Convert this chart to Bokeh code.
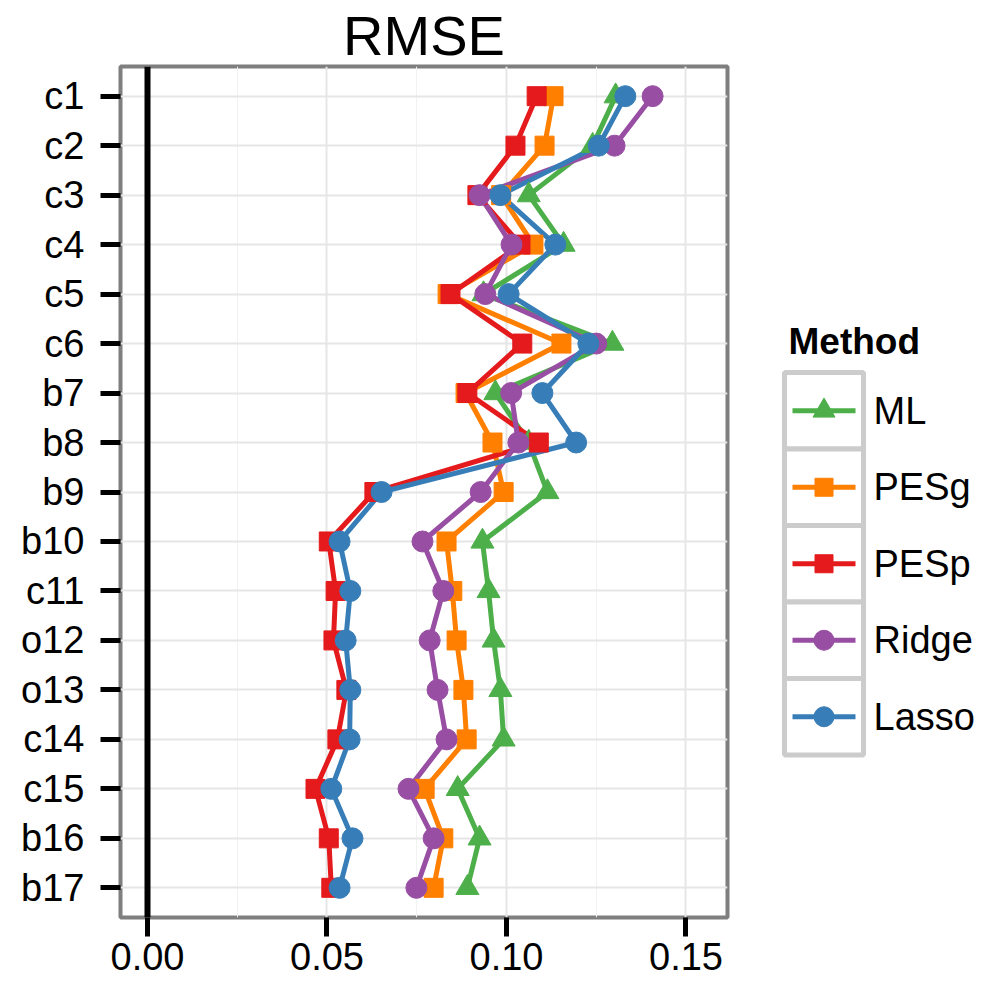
from bokeh.plotting import figure
from bokeh.models import (FactorRange, Range1d, FixedTicker, NumeralTickFormatter, Span)
from bokeh.layouts import row
from bokeh.embed import file_html
from bokeh.resources import INLINE
from bokeh.core.properties import value

# ---------------- data ----------------
categories = ["c1", "c2", "c3", "c4", "c5", "c6", "b7", "b8", "b9", "b10",
              "c11", "o12", "o13", "c14", "c15", "b16", "b17"]
methods = ["ML", "PESg", "PESp", "Ridge", "Lasso"]
x_ticks = [0.0, 0.05, 0.10, 0.15]
x_minor = [0.025, 0.075, 0.125]

ml = [0.1304, 0.1240, 0.1062, 0.1159, 0.0936, 0.1295, 0.0969, 0.1062, 0.1114,
      0.0933, 0.0950, 0.0964, 0.0983, 0.0992, 0.0864, 0.0925, 0.0891]
pesg = [0.1131, 0.1106, 0.0985, 0.1075, 0.0836, 0.1153, 0.0886, 0.0961, 0.0992,
        0.0833, 0.0849, 0.0861, 0.0880, 0.0889, 0.0772, 0.0824, 0.0797]
pesp = [0.1084, 0.1025, 0.0919, 0.1039, 0.0844, 0.1044, 0.0891, 0.1090, 0.0632,
        0.0505, 0.0524, 0.0518, 0.0554, 0.0529, 0.0468, 0.0505, 0.0512]
ridge = [0.1407, 0.1301, 0.0925, 0.1014, 0.0941, 0.1250, 0.1013, 0.1033, 0.0928,
         0.0766, 0.0824, 0.0786, 0.0808, 0.0833, 0.0727, 0.0797, 0.0749]
lasso = [0.1331, 0.1257, 0.0983, 0.1136, 0.1006, 0.1228, 0.1100, 0.1194, 0.0652,
         0.0535, 0.0565, 0.0552, 0.0565, 0.0563, 0.0512, 0.0571, 0.0535]
series = [ml, pesg, pesp, ridge, lasso]

colors = ["#4daf4a", "#ff7f00", "#e41a1c", "#984ea3", "#377eb8"]
markers = ["triangle", "square", "square", "circle", "circle"]
msizes = [23, 19, 19, 21, 21]

FONT = "Liberation Sans"
TOP, BOTTOM = 66, 64   # page border above / below the panel

# ---------------- main panel ----------------
p = figure(width=760, height=981,
           x_range=Range1d(-0.00752, 0.16156),
           y_range=FactorRange(factors=list(reversed(categories)),
                               range_padding=0.1, range_padding_units="absolute"),
           toolbar_location=None, output_backend="svg",
           min_border_left=120, min_border_right=33,
           min_border_top=TOP, min_border_bottom=BOTTOM,
           title="RMSE")

p.title.text_font = FONT
p.title.text_font_size = "56px"
p.title.text_font_style = "normal"
p.title.text_color = "black"
p.title.align = "center"
p.title.standoff = 0
p.title.offset = 0

p.background_fill_color = "white"
p.border_fill_color = "white"
p.outline_line_color = "#7f7f7f"
p.outline_line_width = 4

ticker = FixedTicker(ticks=x_ticks, minor_ticks=x_minor)
p.xaxis.ticker = ticker
p.xgrid.ticker = ticker
p.xaxis.formatter = NumeralTickFormatter(format="0.00")

p.xgrid.grid_line_color = "#e6e6e6"
p.xgrid.grid_line_width = 2
p.xgrid.minor_grid_line_color = "#f2f2f2"
p.xgrid.minor_grid_line_width = 1
p.ygrid.grid_line_color = "#e6e6e6"
p.ygrid.grid_line_width = 2

for ax in (p.xaxis[0], p.yaxis[0]):
    ax.axis_line_color = None
    ax.major_tick_line_color = "black"
    ax.major_tick_line_width = 5
    ax.major_tick_in = 0
    ax.minor_tick_line_color = None
    ax.major_label_text_font = FONT
    ax.major_label_text_font_size = "38px"
    ax.major_label_text_color = "black"

p.xaxis.major_tick_out = 19
p.xaxis.major_label_standoff = 6
p.yaxis.major_tick_out = 20
p.yaxis.major_label_standoff = 16

p.add_layout(Span(location=0, dimension="height", line_color="black", line_width=6))

for vals, c in zip(series, colors):
    p.line(vals, categories, line_color=c, line_width=5)
for vals, c, m, s in zip(series, colors, markers, msizes):
    p.scatter(vals, categories, marker=m, size=s, fill_color=c, line_color=c)

# ---------------- legend (pixel coordinates inside its own frame) ----------------
lg = figure(width=230, height=981, x_range=Range1d(0, 230),
            y_range=Range1d(981 - BOTTOM, TOP),
            toolbar_location=None, output_backend="svg",
            x_axis_location=None, y_axis_location=None,
            min_border_left=0, min_border_right=0,
            min_border_top=TOP, min_border_bottom=BOTTOM)
lg.grid.visible = False
lg.outline_line_color = None
lg.background_fill_color = "white"
lg.border_fill_color = "white"

key_top = 372.0
key_h = 76.5
key_cx = 63.5
centers = [key_top + key_h * (i + 0.5) for i in range(len(methods))]

lg.rect(x=[key_cx] * len(methods), y=centers, width=79, height=key_h,
        fill_color="white", line_color="#cccccc", line_width=5)
for i, (c, m, s) in enumerate(zip(colors, markers, msizes)):
    lg.segment(x0=[32], y0=[centers[i]], x1=[95], y1=[centers[i]],
               line_color=c, line_width=5)
    lg.scatter([key_cx], [centers[i]], marker=m, size=s - 1, fill_color=c, line_color=c)

lg.text(x=[113] * len(methods), y=centers, text=methods,
        text_font=value(FONT), text_font_size="38px", text_color="black",
        text_baseline="middle", text_align="left")
lg.text(x=[28], y=[341], text=["Method"], text_font=value(FONT),
        text_font_size="37px", text_font_style="bold", text_color="black",
        text_baseline="middle", text_align="left")

layout = row(p, lg)
open("out.html", "w").write(file_html(layout, INLINE))
